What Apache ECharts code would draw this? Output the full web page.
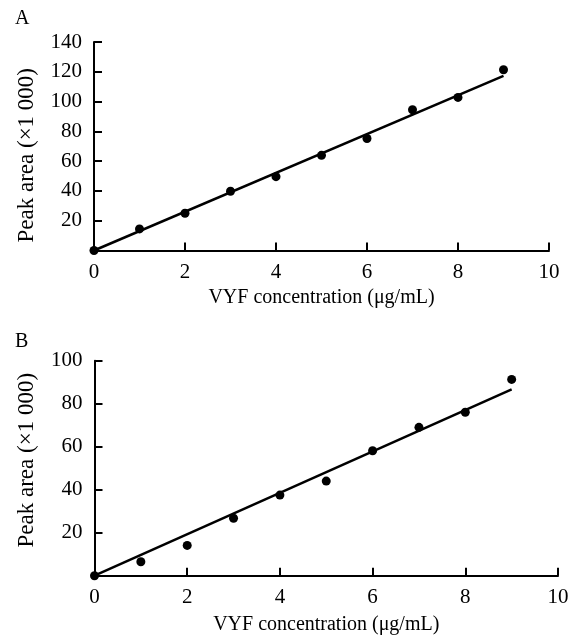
<!DOCTYPE html>
<html>
<head>
<meta charset="utf-8">
<script src="https://cdn.jsdelivr.net/npm/echarts@6/dist/echarts.min.js"></script>
<style>
  html, body { margin: 0; padding: 0; background: #fff; }
  #chart { width: 576px; height: 639px; }
</style>
</head>
<body>
<div id="chart"></div>
<script>
// VYF concentration (µg/mL)
const concentration = [0, 1, 2, 3, 4, 5, 6, 7, 8, 9];
// peak area (x1 000), panel A
const peakA = [0, 14.5, 25, 39.8, 49.6, 63.9, 75.2, 94.5, 102.8, 121.4];
// peak area (x1 000), panel B
const peakB = [0, 6.5, 14.1, 26.7, 37.5, 44, 58.1, 69, 76, 91.3];
// fitted line end points [x, y]
const fitA = [[0, 0], [9, 117.3]];
const fitB = [[0, 0], [9, 86.7]];

const xTitle = 'VYF concentration (\u03bcg/mL)';
const yTitle = 'Peak area (\u00d71 000)';
const font = 'Liberation Serif';

const chart = echarts.init(document.getElementById('chart'));

function xAxisFor(gridIndex, gap) {
  return {
    type: 'value',
    gridIndex: gridIndex,
    min: 0,
    max: 10,
    interval: 2,
    name: xTitle,
    nameLocation: 'middle',
    nameGap: gap,
    nameTextStyle: { fontFamily: font, fontSize: 20, color: '#000' },
    axisLine: { show: true, lineStyle: { color: '#000', width: 2 } },
    axisTick: { show: true, inside: true, length: 8, lineStyle: { color: '#000', width: 2 } },
    axisLabel: { fontFamily: font, fontSize: 21, color: '#000', margin: 11 },
    splitLine: { show: false }
  };
}

function yAxisFor(gridIndex, max, namePad) {
  return {
    type: 'value',
    gridIndex: gridIndex,
    min: 0,
    max: max,
    interval: 20,
    name: yTitle,
    nameLocation: 'middle',
    nameGap: 56,
    nameTextStyle: { fontFamily: font, fontSize: 23, color: '#000', padding: namePad },
    axisLine: { show: true, lineStyle: { color: '#000', width: 2 } },
    axisTick: { show: true, inside: true, length: 8, lineStyle: { color: '#000', width: 2 } },
    axisLabel: {
      fontFamily: font, fontSize: 21, color: '#000', margin: 12,
      formatter: (v) => (v === 0 ? '' : String(v))
    },
    splitLine: { show: false }
  };
}

function pairs(xs, ys) {
  return xs.map((x, i) => [x, ys[i]]);
}

const option = {
  animation: false,
  backgroundColor: '#fff',
  title: [
    { text: 'A', left: 10, top: 4, textStyle: { fontFamily: font, fontSize: 20, fontWeight: 'normal', color: '#000' } },
    { text: 'B', left: 10, top: 327, textStyle: { fontFamily: font, fontSize: 20, fontWeight: 'normal', color: '#000' } }
  ],
  grid: [
    { left: 94, top: 42, width: 455, height: 208.5 },
    { left: 94.5, top: 360.7, width: 463.5, height: 215 }
  ],
  xAxis: [xAxisFor(0, 37), xAxisFor(1, 39)],
  yAxis: [yAxisFor(0, 140, [0, 18, 0, 0]), yAxisFor(1, 100, [0, 0, 0, 16])],
  series: [
    {
      type: 'line', xAxisIndex: 0, yAxisIndex: 0,
      data: fitA, showSymbol: false, silent: true,
      lineStyle: { color: '#000', width: 2.5 }
    },
    {
      type: 'scatter', xAxisIndex: 0, yAxisIndex: 0,
      data: pairs(concentration, peakA), symbolSize: 9,
      itemStyle: { color: '#000', opacity: 1 }
    },
    {
      type: 'line', xAxisIndex: 1, yAxisIndex: 1,
      data: fitB, showSymbol: false, silent: true,
      lineStyle: { color: '#000', width: 2.5 }
    },
    {
      type: 'scatter', xAxisIndex: 1, yAxisIndex: 1,
      data: pairs(concentration, peakB), symbolSize: 9,
      itemStyle: { color: '#000', opacity: 1 }
    }
  ]
};

chart.setOption(option);
</script>
</body>
</html>
